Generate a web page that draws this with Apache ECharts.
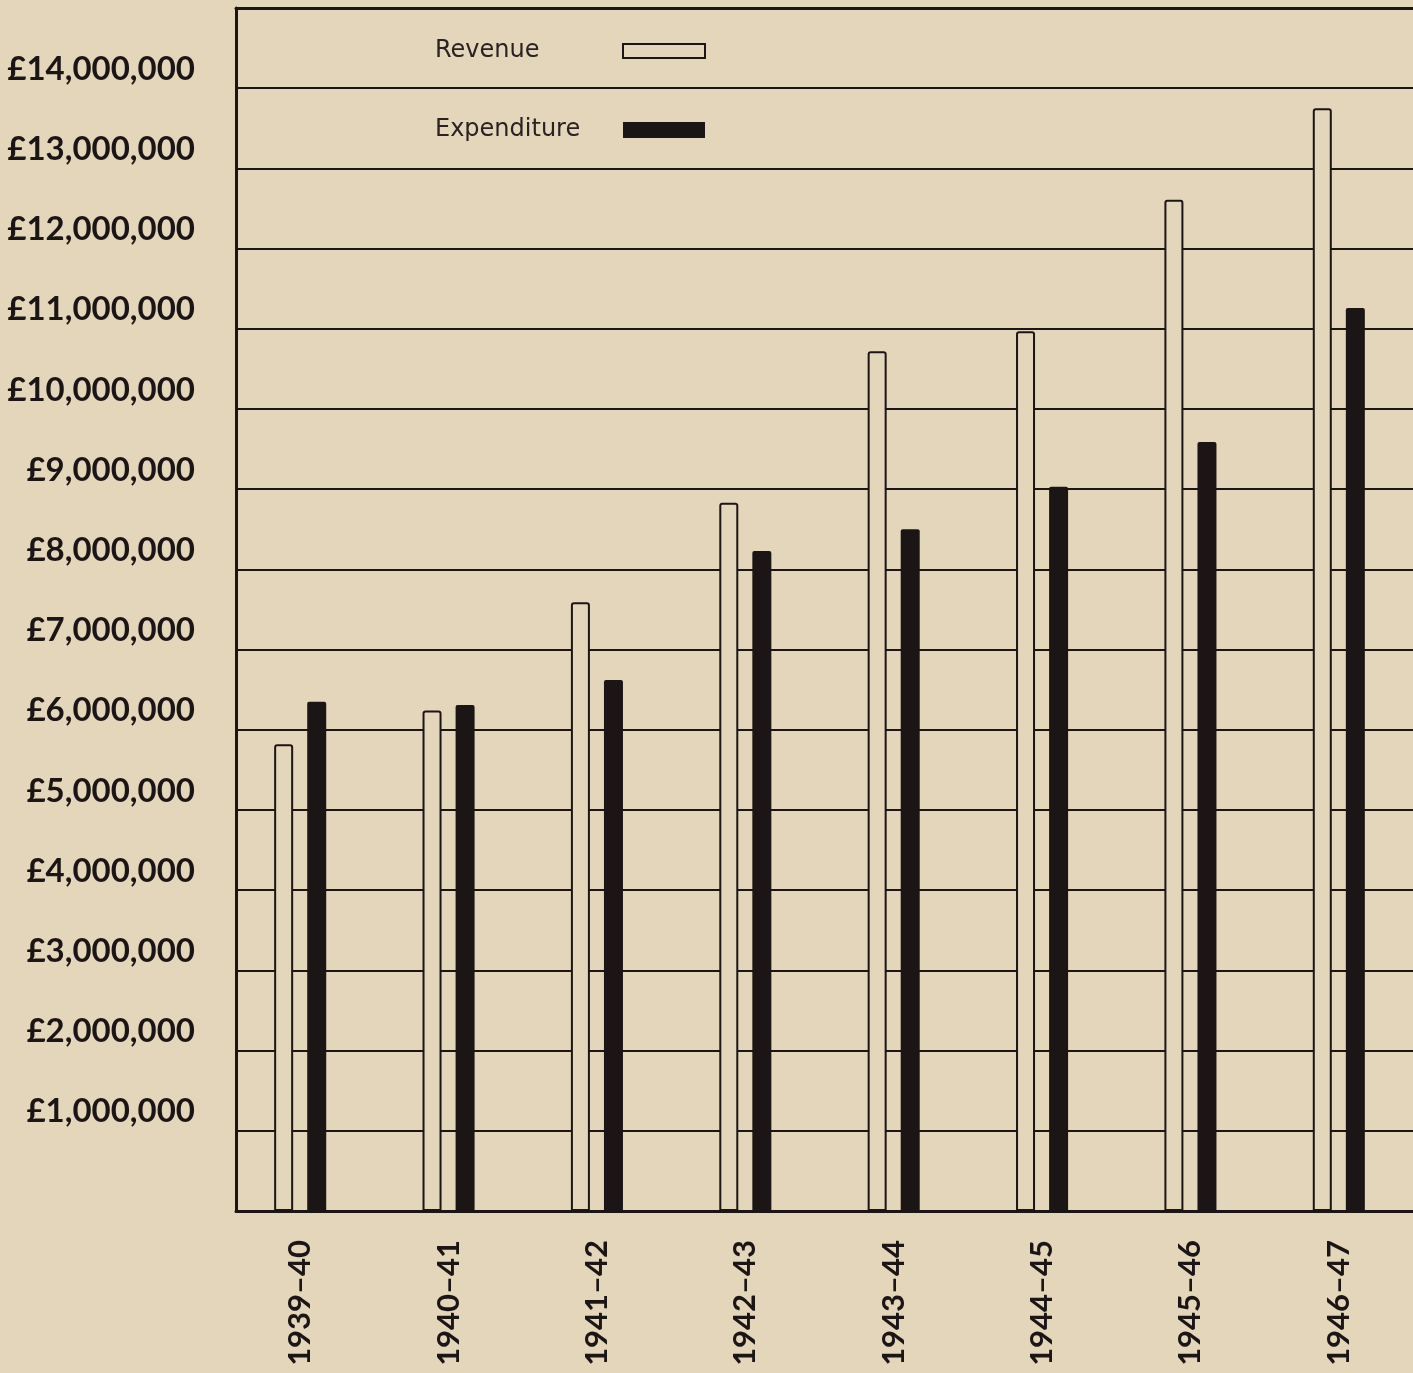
<!DOCTYPE html>
<html>
<head>
<meta charset="utf-8">
<script src="https://cdn.jsdelivr.net/npm/echarts@6/dist/echarts.min.js"></script>
<style>
html,body{margin:0;padding:0;background:#e4d6bb;}
#chart{width:1413px;height:1373px;}
</style>
</head>
<body>
<div id="chart"></div>
<script>
var categories = ['1939–40','1940–41','1941–42','1942–43','1943–44','1944–45','1945–46','1946–47'];
var revenue = [5820000, 6240000, 7590000, 8830000, 10720000, 10970000, 12610000, 13750000];
var expenditure = [6350000, 6310000, 6620000, 8230000, 8500000, 9030000, 9590000, 11260000];
var yTickLabels = ['', '£1,000,000','£2,000,000','£3,000,000','£4,000,000','£5,000,000','£6,000,000','£7,000,000',
  '£8,000,000','£9,000,000','£10,000,000','£11,000,000','£12,000,000','£13,000,000','£14,000,000',''];

var BG = '#e4d6bb';
var INK = '#1c1515';

var chart = echarts.init(document.getElementById('chart'), null, {renderer:'canvas'});
chart.setOption({
  backgroundColor: BG,
  animation: false,
  grid: [
    {left: 226, right: 0, top: 8, bottom: 162},
    {left: 236, right: 0, top: 8, bottom: 162}
  ],
  legend: [
    {
      selectedMode: false, orient: 'vertical', left: 435, top: 39, align: 'right', padding: 0,
      itemWidth: 82, itemHeight: 14, icon: 'rect',
      data: [{name: 'Revenue', itemStyle: {color: BG, borderColor: INK, borderWidth: 2}}],
      formatter: function (n) { return '{a|' + n + '}'; },
      textStyle: {rich: {a: {width: 183, align: 'left', fontFamily: 'DejaVu Sans', fontSize: 24, color: '#2a2222', lineHeight: 28}}}
    },
    {
      selectedMode: false, orient: 'vertical', left: 435, top: 118, align: 'right', padding: 0,
      itemWidth: 82, itemHeight: 16, icon: 'rect',
      data: [{name: 'Expenditure', itemStyle: {color: INK, borderWidth: 0}}],
      formatter: function (n) { return '{a|' + n + '}'; },
      textStyle: {rich: {a: {width: 183, align: 'left', fontFamily: 'DejaVu Sans', fontSize: 24, color: '#2a2222', lineHeight: 28}}}
    }
  ],
  xAxis: [
    {
      type: 'category', gridIndex: 0, data: categories,
      axisLine: {show: false}, axisTick: {show: false},
      axisLabel: {rotate: 90, margin: 29, fontFamily: 'Lato', fontWeight: 'bold', fontSize: 31, color: INK}
    },
    {
      type: 'category', gridIndex: 1, data: categories,
      axisLine: {show: true, lineStyle: {color: INK, width: 3}}, axisTick: {show: false},
      axisLabel: {show: false}
    },
    {
      type: 'category', gridIndex: 1, position: 'top', data: categories,
      axisLine: {show: true, lineStyle: {color: INK, width: 3}}, axisTick: {show: false},
      axisLabel: {show: false}
    }
  ],
  yAxis: [
    {type: 'value', gridIndex: 0, min: 0, max: 15000000, interval: 1000000, show: false},
    {
      type: 'value', gridIndex: 1, min: 0, max: 15000000, interval: 1000000,
      axisLine: {show: true, lineStyle: {color: INK, width: 3}},
      axisTick: {show: false},
      splitLine: {show: true, lineStyle: {color: INK, width: 2}},
      axisLabel: {
        margin: 41, fontFamily: 'Lato', fontWeight: 'bold', fontSize: 33, color: INK,
        verticalAlign: 'bottom', lineHeight: 38,
        formatter: function (v) { return yTickLabels[Math.round(v / 1000000)] || ''; }
      }
    }
  ],
  series: [
    {
      name: 'Revenue', type: 'bar', xAxisIndex: 0, yAxisIndex: 0, data: revenue,
      barWidth: 19, barGap: '74%',
      itemStyle: {color: BG, borderColor: INK, borderWidth: 2, borderRadius: [2, 2, 0, 0]}
    },
    {
      name: 'Expenditure', type: 'bar', xAxisIndex: 0, yAxisIndex: 0, data: expenditure,
      barWidth: 19, barGap: '74%',
      itemStyle: {color: INK, borderRadius: [2, 2, 0, 0]}
    }
  ]
});
</script>
</body>
</html>
